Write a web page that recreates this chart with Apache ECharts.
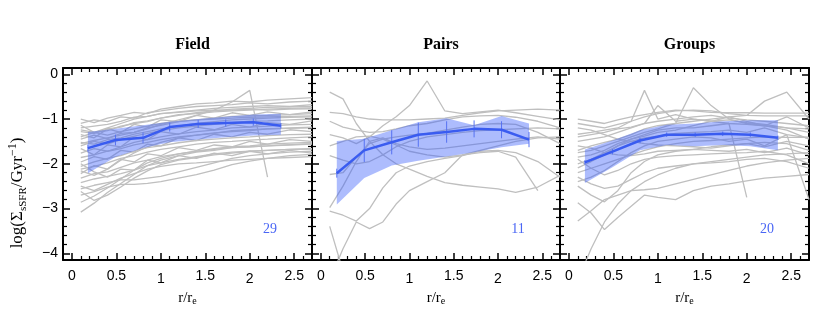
<!DOCTYPE html>
<html><head><meta charset="utf-8">
<script src="https://cdn.jsdelivr.net/npm/echarts@6/dist/echarts.min.js"></script>
<style>html,body{margin:0;padding:0;background:#fff}#c{width:830px;height:314px}</style>
</head><body><div id="c"></div>
<script>
// ---------- data ----------
const panelTitles = ['Field', 'Pairs', 'Groups'];
const panelCounts = ['29', '11', '20'];
const xTicks = [0, 0.5, 1, 1.5, 2, 2.5];
const xMinorTicks = [0.1,0.2,0.3,0.4,0.6,0.7,0.8,0.9,1.1,1.2,1.3,1.4,1.6,1.7,1.8,1.9,2.1,2.2,2.3,2.4,2.6];
const yTicks = [0, -1, -2, -3, -4];
const yMinorTicks = [-0.2,-0.4,-0.6,-0.8,-1.2,-1.4,-1.6,-1.8,-2.2,-2.4,-2.6,-2.8,-3.2,-3.4,-3.6,-3.8];

// radii at which the individual galaxy profiles are sampled
const profileR = [0.1,0.25,0.4,0.55,0.7,0.85,1.0,1.2,1.4,1.6,1.8,2.0,2.2,2.45,2.7];

const fieldProfiles = [
  [-1.00,-1.08,-0.98,-0.92,-0.85,-0.88,-0.78,-0.72,-0.66,-0.64,-0.60,-0.62,-0.58,-0.55,-0.52],
  [-1.10,-1.02,-1.06,-0.95,-0.98,-0.86,-0.82,-0.76,-0.72,-0.70,-0.68,-0.64,-0.66,-0.62,-0.60],
  [-1.20,-1.16,-1.12,-1.05,-0.96,-0.94,-0.88,-0.84,-0.80,-0.76,-0.74,-0.72,-0.70,-0.72,-0.68],
  [-1.28,-1.32,-1.22,-1.18,-1.08,-1.04,-0.98,-0.90,-0.88,-0.84,-0.82,-0.80,-0.78,-0.76,-0.75],
  [-1.35,-1.42,-1.22,-1.30,-1.12,-1.18,-1.02,-1.06,-0.92,-0.98,-0.86,-0.92,-0.84,-0.90,-0.84],
  [-1.45,-1.36,-1.44,-1.32,-1.30,-1.20,-1.14,-1.06,-1.02,-0.98,-0.94,-0.93,-0.92,-0.90,-0.88],
  [-1.52,-1.56,-1.46,-1.42,-1.34,-1.28,-1.22,-1.16,-1.10,-1.06,-1.02,-1.00,-0.98,-0.96,-0.95],
  [-1.60,-1.50,-1.56,-1.46,-1.38,-1.32,-1.26,-1.20,-1.16,-1.12,-1.08,-1.05,-1.04,-1.02,-1.00],
  [-1.66,-1.80,-1.58,-1.62,-1.40,-1.46,-1.28,-1.34,-1.18,-1.24,-1.12,-1.18,-1.08,-1.12,-1.04],
  [-1.76,-1.66,-1.72,-1.62,-1.52,-1.46,-1.40,-1.33,-1.28,-1.25,-1.20,-1.18,-1.16,-1.13,-1.12],
  [-1.86,-1.80,-1.72,-1.66,-1.58,-1.52,-1.46,-1.40,-1.36,-1.31,-1.28,-1.26,-1.22,-1.21,-1.20],
  [-1.96,-1.84,-1.90,-1.70,-1.74,-1.56,-1.60,-1.42,-1.48,-1.34,-1.40,-1.30,-1.34,-1.24,-1.28],
  [-2.06,-1.96,-1.88,-1.82,-1.72,-1.64,-1.60,-1.53,-1.48,-1.45,-1.42,-1.40,-1.37,-1.35,-1.34],
  [-2.12,-2.06,-1.98,-1.88,-1.82,-1.74,-1.68,-1.62,-1.56,-1.52,-1.50,-1.47,-1.45,-1.42,-1.40],
  [-2.22,-2.04,-2.12,-1.90,-1.96,-1.78,-1.82,-1.64,-1.70,-1.58,-1.62,-1.50,-1.56,-1.46,-1.50],
  [-2.32,-2.22,-2.18,-2.08,-1.98,-1.92,-1.84,-1.78,-1.72,-1.68,-1.64,-1.62,-1.60,-1.57,-1.55],
  [-2.42,-2.34,-2.28,-2.22,-2.14,-2.04,-1.98,-1.90,-1.84,-1.78,-1.74,-1.72,-1.70,-1.68,-1.66],
  [-2.56,-2.48,-2.42,-2.36,-2.36,-2.32,-2.28,-2.18,-2.08,-1.98,-1.88,-1.82,-1.78,-1.74,-1.72],
  [-2.70,-2.62,-2.52,-2.46,-2.46,-2.44,-2.40,-2.32,-2.24,-2.14,-2.02,-1.94,-1.88,-1.82,-1.79],
  [-2.86,-2.72,-2.54,-2.34,-2.14,-1.98,-1.88,-1.78,-1.72,-1.66,-1.62,-1.60,-1.56,-1.54,-1.52],
  [-3.08,-2.88,-2.64,-2.44,-2.24,-2.04,-1.92,-1.82,-1.74,-1.70,-1.64,-1.62,-1.60,-1.58,-1.56],
  [-2.16,-2.26,-2.12,-1.92,-1.76,-1.62,-1.52,-1.42,-1.36,-1.32,-1.26,-1.24,-1.22,-1.20,-1.18],
  [-1.14,-1.30,-1.26,-1.16,-1.10,-1.06,-0.98,-0.92,-0.86,-0.82,-0.78,-0.76,-0.74,-0.73,-0.72],
  [-1.55,-1.48,-1.42,-1.36,-1.30,-1.22,-1.12,-1.02,-0.92,-0.80,-0.62,-0.36,-2.30,null,null],
  [-2.50,-2.60,-2.46,-2.32,-2.22,-2.12,-2.06,-2.00,-1.98,-1.95,-1.92,-1.90,-1.88,-1.86,-1.84],
  [-2.00,-2.18,-2.30,-2.12,-2.14,-1.92,-1.98,-1.82,-1.88,-1.76,-1.82,-1.72,-1.78,-1.70,-1.76],
  [-1.40,-1.30,-1.20,-1.10,-1.00,-0.94,-0.88,-0.85,-0.82,-0.80,-0.80,-0.78,-0.80,-0.78,-0.77],
  [-1.24,-1.30,-1.36,-1.28,-1.22,-1.16,-1.10,-1.05,-1.02,-1.00,-0.98,-0.96,-0.95,-0.94,-0.93],
  [-2.62,-2.82,-2.70,-2.52,-2.32,-2.16,-2.02,-1.92,-1.86,-1.80,-1.76,-1.72,-1.70,-1.68,-1.67]
];

const pairsProfiles = [
  [-0.40,-0.55,-1.10,-1.50,-1.80,-2.00,-2.12,-2.28,-2.42,-2.48,-2.52,-2.56,-2.64,-2.52,-2.26],
  [-0.85,-0.88,-0.95,-1.00,-1.02,-1.02,-1.02,-1.00,-0.98,-0.92,-0.86,-0.82,-0.80,-0.78,-0.80],
  [-1.35,-1.42,-1.55,-1.40,-1.15,-0.95,-0.70,-0.15,-0.82,-0.88,-0.84,-0.80,-0.86,-0.94,-1.02],
  [-1.05,-1.18,-1.25,-1.30,-1.28,-1.22,-1.15,-1.10,-1.02,-0.95,-0.93,-0.92,-0.96,-1.05,-1.20],
  [-1.82,-1.92,-2.00,-1.95,-1.80,-1.62,-1.50,-1.40,-1.35,-1.30,-1.26,-1.24,-1.22,-1.20,-1.22],
  [-2.24,-2.20,-1.85,-1.55,-1.45,-1.40,-1.36,-1.32,-1.25,-1.18,-1.12,-1.10,-1.12,-1.30,-1.55],
  [-2.98,-2.50,-1.95,-1.50,-1.42,-1.55,-1.62,-1.68,-1.65,-1.60,-1.55,-1.50,-1.45,-1.40,-1.45],
  [-3.06,-3.15,-3.28,-3.00,-2.54,-2.20,-2.05,-1.95,-1.88,-1.82,-1.72,-1.70,-1.75,-1.95,-2.30],
  [-3.40,-4.40,null,null,null,null,null,null,null,null,null,null,null,null,null],
  [-4.60,-3.90,-3.30,-3.45,-3.30,-2.90,-2.60,-2.40,-2.20,-1.80,-1.75,-1.72,-1.85,-2.60,null],
  [-1.60,-1.50,-1.40,-1.38,-1.45,-1.58,-1.72,-1.80,-1.85,-1.80,-1.70,-1.60,-1.50,-1.42,-1.40]
];

const groupsProfiles = [
  [-1.00,-1.05,-1.10,-1.02,-0.95,-0.90,-0.85,-0.80,-0.82,-0.85,-0.86,-0.86,-0.87,-0.87,-0.87],
  [-1.10,-1.15,-1.20,-1.12,-1.05,-0.95,-0.88,-0.82,-0.80,-0.82,-0.88,-0.92,-0.93,-0.93,-0.93],
  [-1.34,-1.30,-1.25,-1.20,-1.05,-0.36,-1.00,-0.90,-1.00,-1.05,-1.10,-1.12,-1.15,-1.20,-1.22],
  [-1.50,-1.45,-1.40,-1.30,-1.20,-1.10,-0.70,-1.05,-1.00,-1.05,-1.02,-1.08,-1.12,-1.20,-1.30],
  [-1.75,-1.70,-1.60,-1.50,-1.40,-1.30,-1.22,-1.10,-0.30,-0.70,-1.00,-1.10,-1.15,-1.25,-1.45],
  [-1.85,-1.80,-1.70,-1.55,-1.45,-1.38,-1.30,-1.25,-1.15,-1.05,-0.95,-0.92,-0.60,-0.40,-1.00],
  [-2.09,-1.95,-1.80,-1.60,-1.45,-1.35,-1.25,-1.20,-1.20,-1.15,-1.10,-2.75,null,null,null],
  [-2.20,-2.10,-2.00,-1.90,-1.80,-1.70,-1.62,-1.55,-1.50,-1.48,-1.45,-1.42,-1.40,-1.41,-1.41],
  [-2.40,-2.30,-2.15,-1.95,-1.75,-1.60,-1.50,-1.45,-1.40,-1.42,-1.50,-1.45,-1.60,-1.35,-2.80],
  [-2.87,-3.10,-3.47,-3.20,-2.95,-2.70,-2.75,-2.80,-2.60,-2.50,-2.45,-2.38,-2.32,-2.28,-2.24],
  [-4.60,-3.90,-3.30,-2.90,-2.60,-2.40,-2.25,-2.10,-2.00,-1.95,-1.90,-1.85,-1.80,-1.78,-1.75],
  [-3.28,-3.05,-2.80,-2.70,-2.60,-2.58,-2.55,-2.45,-2.35,-2.25,-2.15,-2.05,-1.98,-1.92,-1.88],
  [-1.20,-1.25,-1.35,-1.45,-1.50,-1.55,-1.58,-1.60,-1.62,-1.65,-1.60,-1.55,-1.62,-1.50,-1.60],
  [-1.60,-1.65,-1.75,-1.80,-1.82,-1.78,-1.72,-1.70,-1.68,-1.70,-1.72,-1.68,-1.75,-1.65,-1.80],
  [-1.90,-2.10,-2.25,-2.15,-2.00,-1.90,-1.85,-1.82,-1.80,-1.78,-1.76,-1.75,-1.72,-1.80,-2.00],
  [-2.50,-2.70,-2.85,-2.60,-2.20,-1.95,-1.80,-1.72,-1.68,-1.62,-1.58,-1.55,-1.52,-1.55,-1.70],
  [-1.40,-1.35,-1.30,-1.22,-1.18,-1.10,-1.05,-1.00,-0.95,-0.92,-0.98,-1.02,-1.05,-1.10,-1.15],
  [-2.00,-1.90,-1.75,-1.60,-1.50,-1.42,-1.38,-1.32,-1.30,-1.28,-1.25,-1.30,-1.20,-1.35,-1.42],
  [-2.30,-2.45,-2.55,-2.50,-2.35,-2.20,-2.10,-2.05,-2.00,-1.98,-1.95,-1.90,-1.88,-1.95,-2.10],
  [-1.70,-1.60,-1.52,-1.45,-1.35,-1.22,-1.15,-1.10,-1.05,-1.00,-0.95,-1.05,-1.15,-0.95,-1.20]
];

// median profiles, bands and error bars
const medianR = [0.18, 0.49, 0.80, 1.10, 1.42, 1.73, 2.04, 2.35];

const fieldMedian = [-1.65, -1.47, -1.42, -1.18, -1.11, -1.09, -1.07, -1.15];
const fieldLow    = [-2.21, -1.85, -1.65, -1.52, -1.46, -1.41, -1.37, -1.35];
const fieldHigh   = [-1.29, -1.22, -1.14, -1.06, -1.00, -0.95, -0.90, -0.88];
const fieldErr    = [0.08, 0.12, 0.12, 0.10, 0.09, 0.08, 0.08, 0.06];

const pairsMedian = [-2.21, -1.70, -1.52, -1.35, -1.29, -1.22, -1.24, -1.46];
const pairsLow    = [-2.91, -2.32, -2.04, -1.93, -1.84, -1.74, -1.63, -1.55];
const pairsHigh   = [-1.49, -1.44, -1.25, -1.07, -0.98, -1.14, -0.93, -1.10];
const pairsErr    = [0.10, 0.26, 0.27, 0.27, 0.24, 0.19, 0.19, 0.17];

const groupsMedian = [-1.97, -1.73, -1.48, -1.35, -1.35, -1.33, -1.35, -1.42];
const groupsLow    = [-2.43, -2.08, -1.70, -1.58, -1.61, -1.58, -1.61, -1.70];
const groupsHigh   = [-1.68, -1.48, -1.25, -1.13, -1.10, -1.05, -1.03, -1.03];
const groupsErr    = [0.05, 0.06, 0.06, 0.05, 0.05, 0.05, 0.05, 0.05];

// ---------- chart ----------
const panels = [
  {profiles: fieldProfiles, med: fieldMedian, lo: fieldLow, hi: fieldHigh, err: fieldErr},
  {profiles: pairsProfiles, med: pairsMedian, lo: pairsLow, hi: pairsHigh, err: pairsErr},
  {profiles: groupsProfiles, med: groupsMedian, lo: groupsLow, hi: groupsHigh, err: groupsErr}
];
const gridLefts = [63, 312, 560];
const gridWidths = [249, 248, 249];
const GT = 68, GH = 192;
const XMIN = -0.1, XMAX = 2.7, YMIN = -4.15, YMAX = 0.14;
const SANS = 'Liberation Sans';
const SERIF = 'Liberation Serif';
const BLUE = '#3a5cf0';

const grids = [], xAxes = [], yAxes = [], series = [], titles = [];

function fmtX(v) {
  const s = String(v);
  return (v === 1 || v === 2) ? '{lo|' + s + '}' : s;
}
function fmtY(v) { return v < 0 ? '\u2212' + Math.abs(v) : String(v); }

panels.forEach((p, gi) => {
  grids.push({left: gridLefts[gi], top: GT, width: gridWidths[gi], height: GH, containLabel: false});
  const axLine = {show: true, onZero: false, lineStyle: {color: '#000', width: 2}};
  const noLine = {show: false, onZero: false};
  const base = {type: 'value', gridIndex: gi, min: XMIN, max: XMAX, splitLine: {show: false}};
  xAxes.push(Object.assign({}, base, {
    position: 'bottom', axisLine: axLine,
    axisTick: {show: true, inside: true, length: 7, customValues: xTicks, lineStyle: {color: '#000', width: 1.5}},
    axisLabel: {show: true, customValues: xTicks, formatter: fmtX, color: '#000', fontFamily: SANS, fontSize: 14, margin: 9,
      rich: {lo: {fontFamily: SANS, fontSize: 14, color: '#000', padding: [3, 0, 0, 0]}}},
    name: '{a|r/r}{s|e}', nameLocation: 'middle', nameGap: 25,
    nameTextStyle: {rich: {a: {fontFamily: SERIF, fontSize: 15, color: '#000'},
      s: {fontFamily: SERIF, fontSize: 10, color: '#000', padding: [6, 0, 0, 0]}}}
  }));
  xAxes.push(Object.assign({}, base, {
    position: 'bottom', axisLine: noLine,
    axisTick: {show: true, inside: true, length: 4, customValues: xMinorTicks, lineStyle: {color: '#000', width: 1.2}},
    axisLabel: {show: false}
  }));
  xAxes.push(Object.assign({}, base, {
    position: 'top', axisLine: axLine,
    axisTick: {show: true, inside: true, length: 7, customValues: xTicks, lineStyle: {color: '#000', width: 1.5}},
    axisLabel: {show: false}
  }));
  xAxes.push(Object.assign({}, base, {
    position: 'top', axisLine: noLine,
    axisTick: {show: true, inside: true, length: 4, customValues: xMinorTicks, lineStyle: {color: '#000', width: 1.2}},
    axisLabel: {show: false}
  }));

  const ybase = {type: 'value', gridIndex: gi, min: YMIN, max: YMAX, splitLine: {show: false}};
  const yMain = Object.assign({}, ybase, {
    position: 'left', axisLine: axLine,
    axisTick: {show: true, inside: true, length: 7, customValues: yTicks, lineStyle: {color: '#000', width: 1.5}},
    axisLabel: {show: gi === 0, customValues: yTicks, formatter: fmtY, color: '#000', fontFamily: SANS, fontSize: 14, margin: 5}
  });
  if (gi === 0) {
    Object.assign(yMain, {
      name: '{a|log(\u03a3}{s|sSFR}{a|/Gyr}{p|\u22121}{a|)}', nameLocation: 'middle', nameGap: 32, nameRotate: 90,
      nameTextStyle: {padding: [0, 58, 0, 0], rich: {
        a: {fontFamily: SERIF, fontSize: 17, color: '#000', lineHeight: 26},
        s: {fontFamily: SERIF, fontSize: 11, color: '#000', lineHeight: 26, padding: [10, 0, 0, 0]},
        p: {fontFamily: SERIF, fontSize: 12, color: '#000', lineHeight: 26, padding: [0, 0, 10, 0]}
      }}
    });
  }
  yAxes.push(yMain);
  yAxes.push(Object.assign({}, ybase, {
    position: 'left', axisLine: noLine,
    axisTick: {show: true, inside: true, length: 4, customValues: yMinorTicks, lineStyle: {color: '#000', width: 1.2}},
    axisLabel: {show: false}
  }));
  yAxes.push(Object.assign({}, ybase, {
    position: 'right', axisLine: axLine,
    axisTick: {show: true, inside: true, length: 7, customValues: yTicks, lineStyle: {color: '#000', width: 1.5}},
    axisLabel: {show: false}
  }));
  yAxes.push(Object.assign({}, ybase, {
    position: 'right', axisLine: noLine,
    axisTick: {show: true, inside: true, length: 4, customValues: yMinorTicks, lineStyle: {color: '#000', width: 1.2}},
    axisLabel: {show: false}
  }));

  const xi = gi * 4, yi = gi * 4;
  p.profiles.forEach(arr => {
    const data = [];
    arr.forEach((v, i) => { if (v !== null) data.push([profileR[i], v]); });
    series.push({type: 'line', xAxisIndex: xi, yAxisIndex: yi, data, symbol: 'none', silent: true, z: 1,
      lineStyle: {color: '#bfbfbf', width: 1.3}, clip: true});
  });
  // shaded band: polygon through (r, low) forward and (r, high) backward
  const bandData = medianR.map((r, i) => [r, p.lo[i], p.hi[i]]);
  series.push({type: 'custom', xAxisIndex: xi, yAxisIndex: yi, z: 2, silent: true, clip: true,
    data: bandData, encode: {x: 0, y: [1, 2]},
    renderItem: (params, api) => {
      if (params.dataIndex !== 0) return null;
      const lower = bandData.map(d => api.coord([d[0], d[1]]));
      const upper = bandData.map(d => api.coord([d[0], d[2]])).reverse();
      return {type: 'polygon', shape: {points: lower.concat(upper)},
        style: {fill: 'rgba(60,95,250,0.42)', stroke: null}};
    }});
  series.push({type: 'custom', xAxisIndex: xi, yAxisIndex: yi, z: 3, silent: true,
    data: medianR.map((r, i) => [r, p.med[i] - p.err[i], p.med[i] + p.err[i]]),
    encode: {x: 0, y: [1, 2]},
    renderItem: (params, api) => {
      const a = api.coord([api.value(0), api.value(1)]);
      const b = api.coord([api.value(0), api.value(2)]);
      return {type: 'line', shape: {x1: a[0], y1: a[1], x2: b[0], y2: b[1]}, style: {stroke: '#5672f2', lineWidth: 1}};
    }});
  series.push({type: 'line', xAxisIndex: xi, yAxisIndex: yi, data: medianR.map((r, i) => [r, p.med[i]]),
    symbol: 'none', silent: true, z: 4, lineStyle: {color: BLUE, width: 2.5}});

  titles.push({text: panelTitles[gi], left: gridLefts[gi] + gridWidths[gi] / 2, top: 32, textAlign: 'center',
    textStyle: {fontFamily: SERIF, fontWeight: 'bold', fontSize: 16, color: '#000'}});
  titles.push({text: panelCounts[gi], left: gridLefts[gi] + gridWidths[gi] - 47, top: 217, textAlign: 'center',
    textStyle: {fontFamily: SERIF, fontWeight: 'normal', fontSize: 14, color: '#4a66f5'}});
});

const chart = echarts.init(document.getElementById('c'), null, {renderer: 'canvas'});
chart.setOption({
  animation: false,
  backgroundColor: '#fff',
  title: titles,
  grid: grids,
  xAxis: xAxes,
  yAxis: yAxes,
  series
});
</script></body></html>
